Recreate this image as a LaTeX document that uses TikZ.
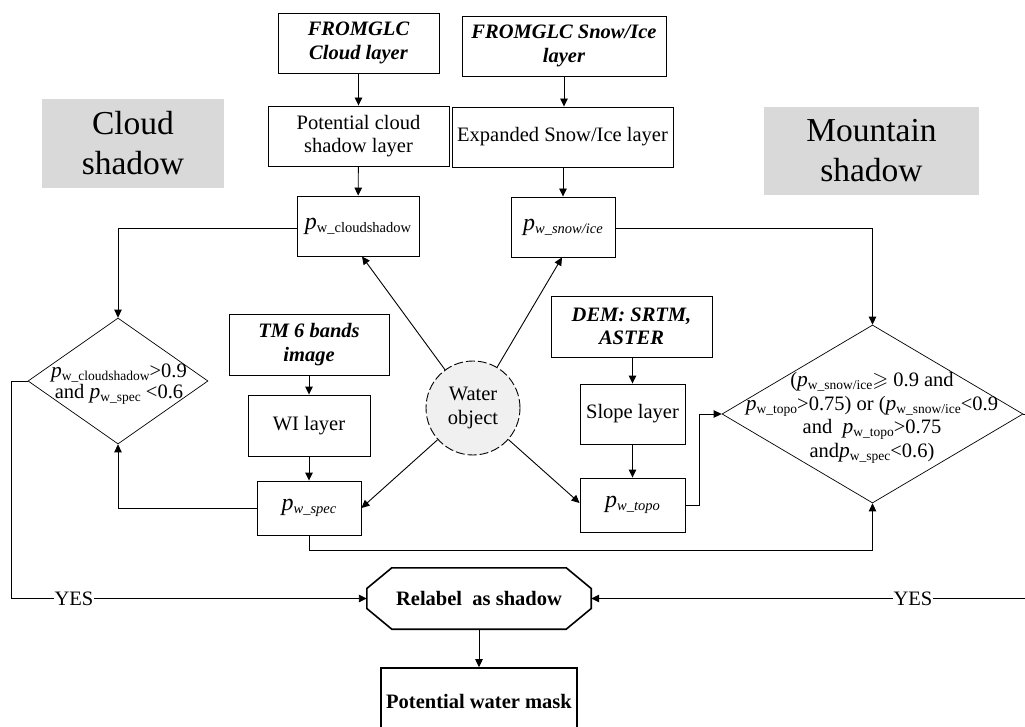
\documentclass[tikz,border=0pt]{standalone}
\usepackage{fontspec}
\setmainfont{Liberation Serif}
\usepackage{amssymb}
\usetikzlibrary{shapes.geometric,arrows.meta,calc}
\newcommand\PP[1]{{\fontsize{24}{24}\selectfont\textit{p}}{\fontsize{14.5}{14.5}\selectfont\raisebox{-3pt}{#1}}}
\newcommand\pd[1]{{\fontsize{21.5}{21.5}\selectfont\textit{p}}{\fontsize{13.5}{13.5}\selectfont\raisebox{-3pt}{#1}}}
\begin{document}
\begin{tikzpicture}[x=1pt,y=-1pt,
  font=\fontsize{20.5}{23.5}\selectfont,
  box/.style={draw, line width=0.9pt, align=center, inner sep=2pt},
  bi/.style={font=\fontsize{20.5}{23.5}\selectfont\bfseries\itshape},
  arr/.style={-{Triangle[length=8pt,width=7.5pt]}, line width=0.9pt},
  graybox/.style={fill=black!15, align=center, font=\fontsize{33.5}{40}\selectfont},
  dia/.style={draw, diamond, line width=0.7pt, inner sep=0pt},
  yes/.style={fill=white, inner sep=1pt}]
\useasboundingbox (0,0) rectangle (1025,727);

% gray titles
\node[graybox, minimum width=182pt, minimum height=89pt] (cs) at (133,143.5) {Cloud\\shadow};
\node[graybox, minimum width=215pt, minimum height=88pt] (ms) at (871.5,151) {Mountain\\shadow};

% boxes
\node[box, bi, minimum width=161pt, minimum height=60pt] (fcl) at (358.5,43) {FROMGLC\\Cloud layer};
\node[box, bi, minimum width=204pt, minimum height=60pt] (fsi) at (564,46) {FROMGLC Snow/Ice\\layer};
\node[box, minimum width=181pt, minimum height=60pt] (pcs) at (358.5,136) {Potential cloud\\shadow layer};
\node[box, minimum width=221pt, minimum height=60pt] (esi) at (562.5,137) {Expanded Snow/Ice layer};
\node[box, minimum width=122pt, minimum height=60pt] (pwc) at (358,226) {\PP{w\_cloudshadow}};
\node[box, minimum width=104pt, minimum height=60pt] (pws) at (563,227) {\PP{\textit{w\_snow/ice}}};
\node[box, bi, minimum width=160pt, minimum height=61pt] (tm) at (309,344.5) {TM 6 bands\\image};
\node[box, minimum width=122pt, minimum height=61pt] (wi) at (309,425.5) {WI layer};
\node[box, minimum width=104pt, minimum height=54pt] (pspec) at (309,508) {\PP{\textit{w\_spec}}};
\node[box, bi, minimum width=161pt, minimum height=61pt] (dem) at (631.5,326.5) {DEM: SRTM,\\ASTER};
\node[box, minimum width=105pt, minimum height=60pt] (slope) at (632.5,414) {Slope layer};
\node[box, minimum width=105pt, minimum height=54pt] (ptopo) at (632.5,505) {\PP{\textit{w\_topo}}};

% water object
\node[circle, draw, fill=black!6, dash pattern=on 9pt off 3pt, line width=0.9pt,
      minimum size=94pt, align=center, inner sep=0pt] (water) at (473,408) {Water\\object};

% diamonds
\node[dia, minimum width=180pt, minimum height=126pt] (ld) at (118,381) {};
\node[align=center, font=\fontsize{20.5}{21.5}\selectfont] (ldt) at (119,384) {\pd{w\_cloudshadow}>0.9\\and \pd{w\_spec} <0.6};
\node[dia, minimum width=301pt, minimum height=178pt] (rd) at (872.5,414) {};
\node[align=center, font=\fontsize{20.5}{23.5}\selectfont] (rdt) at (872,418)
  {(\pd{w\_snow/ice}$\geqslant$ 0.9 and\\\pd{w\_topo}>0.75) or (\pd{w\_snow/ice}<0.9\\and \ \pd{w\_topo}>0.75\\and\pd{w\_spec}<0.6)};

% relabel octagon
\node[minimum width=224pt, minimum height=61pt, font=\fontsize{20.5}{23.5}\selectfont\bfseries] (rel) at (479,598.5) {Relabel\ \ as shadow};
\draw[line width=1.6pt, line join=miter]
  ($(rel.north west)+(25,0)$) -- ($(rel.north east)+(-25,0)$) -- ($(rel.east)+(0,-10)$) --
  ($(rel.east)+(0,10)$) -- ($(rel.south east)+(-25,0)$) -- ($(rel.south west)+(25,0)$) --
  ($(rel.west)+(0,10)$) -- ($(rel.west)+(0,-10)$) -- cycle;

\node[box, line width=1.6pt, minimum width=196pt, minimum height=66pt,
      font=\fontsize{20.5}{23.5}\selectfont\bfseries] (pwm) at (479,701) {Potential water mask};

% connectors
\draw[arr] (fcl) -- (pcs);
\draw[arr] (pcs) -- (pwc);
\draw[arr] (fsi.south) -- (fsi.south |- esi.north);
\draw[arr] (esi.south -| pws.north) -- (pws.north);
\draw[arr] (tm) -- (wi);
\draw[arr] (wi) -- (pspec);
\draw[arr] (dem.south -| slope.north) -- (slope.north);
\draw[arr] (slope) -- (ptopo);

\draw[arr] (water) -- ([xshift=4pt]pwc.south);
\draw[arr] (water) -- ([xshift=-1pt]pws.south);
\draw[arr] (water) -- (pspec.east);
\draw[arr] (water) -- ([yshift=2pt]ptopo.west);

\draw[arr] ([yshift=-2pt]pwc.west) -| (ld.north);
\draw[arr] ([yshift=-1pt]pws.east) -| (rd.north);
\draw[arr] (pspec.west) -| (ld.south);
\draw[arr] (pspec.south) -- ++(0,15) -| (rd.south);
\draw[arr] (ptopo.east) -- ++(14,0) |- (rd.west);

\draw[arr] (ld.west) -- ++(-16,0) |- (rel.west);
\draw[arr] (rd.east) -- ++(12,0) |- (rel.east);
\node[yes] (y1) at (74,599) {YES};
\node[yes] (y2) at (913,599) {YES};

\draw[arr] (rel.south) -- (pwm.north);
\end{tikzpicture}
\end{document}
